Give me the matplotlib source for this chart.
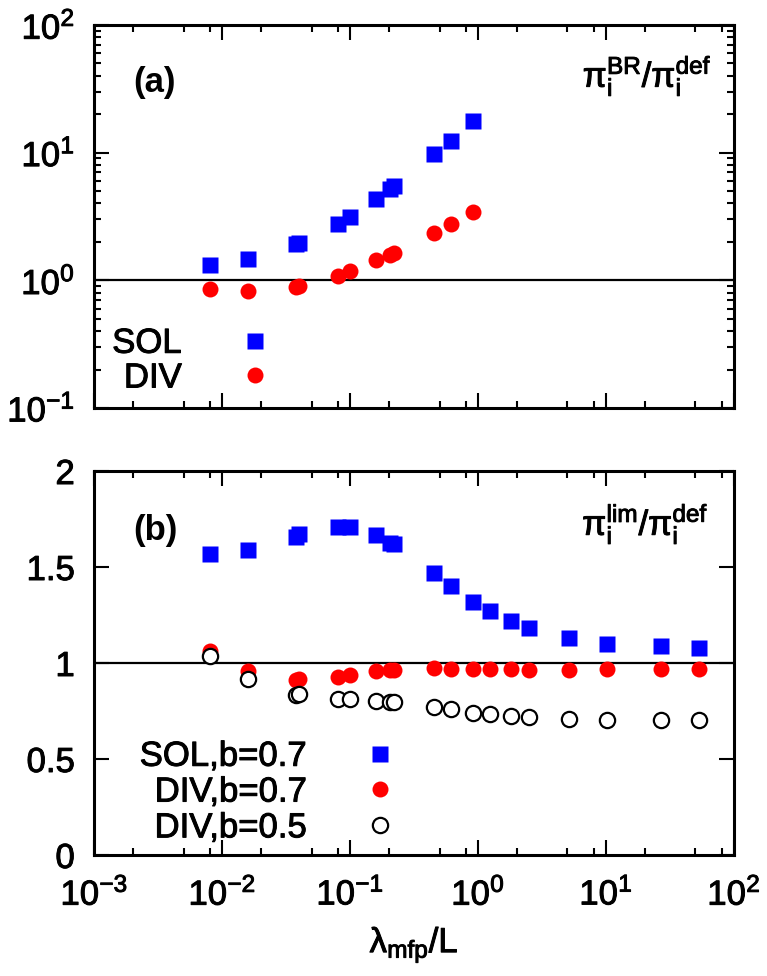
import matplotlib
matplotlib.use('Agg')
import matplotlib.pyplot as plt
import matplotlib.patheffects as pe
from matplotlib.ticker import LogLocator, MultipleLocator, NullFormatter, FuncFormatter

plt.rcParams['font.family'] = ['Liberation Sans', 'DejaVu Sans']
plt.rcParams['mathtext.fontset'] = 'custom'
plt.rcParams['mathtext.rm'] = 'Liberation Sans'
plt.rcParams['mathtext.it'] = 'Liberation Sans'
plt.rcParams['mathtext.bf'] = 'Liberation Sans:bold'

# panel (a): pi_BR / pi_def
x_a = [0.008, 0.016, 0.038, 0.040, 0.080, 0.10, 0.16, 0.205, 0.22, 0.45, 0.61, 0.91]
sol_a = [1.32, 1.46, 1.93, 1.97, 2.77, 3.16, 4.34, 5.16, 5.48, 9.77, 12.4, 17.7]
div_a = [0.85, 0.82, 0.89, 0.91, 1.09, 1.19, 1.45, 1.58, 1.65, 2.34, 2.75, 3.45]

# panel (b): pi_lim / pi_def
x_b = [0.008, 0.016, 0.038, 0.040, 0.080, 0.10, 0.16, 0.205, 0.22, 0.45, 0.61, 0.91,
       1.25, 1.8, 2.5, 5.1, 10.1, 27, 53]
sol_b = [1.566, 1.589, 1.658, 1.670, 1.707, 1.707, 1.667, 1.627, 1.618, 1.47, 1.40, 1.318,
         1.27, 1.22, 1.18, 1.13, 1.10, 1.09, 1.078]
div7_b = [1.064, 0.960, 0.911, 0.915, 0.929, 0.938, 0.960, 0.964, 0.965, 0.972, 0.969, 0.968,
          0.967, 0.967, 0.966, 0.966, 0.967, 0.970, 0.970]
div5_b = [1.036, 0.917, 0.833, 0.839, 0.811, 0.811, 0.804, 0.798, 0.798, 0.772, 0.759, 0.741,
          0.732, 0.726, 0.719, 0.710, 0.704, 0.704, 0.704]

BLUE = '#0000ff'
RED = '#ff0000'
TICK_FS = 25
TXT_FS = 25
# slightly heavier glyphs, like the original
HEAVY = [pe.withStroke(linewidth=0.7, foreground='black')]


def style_axes(ax):
    for sp in ax.spines.values():
        sp.set_linewidth(2.2)
    ax.tick_params(which='both', direction='in', top=True, right=True, width=1.5)
    ax.tick_params(which='major', length=10.5, labelsize=TICK_FS)
    ax.tick_params(axis='x', which='major', pad=16)
    ax.tick_params(axis='y', which='major', pad=14)
    ax.tick_params(which='minor', length=5)
    ax.set_xscale('log')
    ax.set_xlim(1e-3, 1e2)
    ax.xaxis.set_major_locator(LogLocator(base=10, numticks=10))
    ax.xaxis.set_minor_locator(LogLocator(base=10, subs=(2, 5, 8), numticks=10))
    ax.xaxis.set_minor_formatter(NullFormatter())
    ax.axhline(1, color='black', lw=1.6, zorder=1)


def right_align_legend(leg):
    for col in leg._legend_handle_box.get_children():
        col.align = 'right'
    for t in leg.get_texts():
        t.set_path_effects(HEAVY)


fig = plt.figure(figsize=(7.67, 9.76), dpi=100)
ax1 = fig.add_axes([0.1229, 0.582, 0.834, 0.3924])
ax2 = fig.add_axes([0.1229, 0.124, 0.834, 0.3934])

# ---- panel (a)
style_axes(ax1)
ax1.set_yscale('log')
ax1.set_ylim(0.1, 100)
ax1.yaxis.set_major_locator(LogLocator(base=10, numticks=10))
ax1.yaxis.set_minor_locator(LogLocator(base=10, subs=range(2, 10), numticks=10))
ax1.yaxis.set_minor_formatter(NullFormatter())
ax1.tick_params(axis='x', labelbottom=False)

ax1.plot(x_a, sol_a, 's', color=BLUE, ms=12, mec='none', label='SOL', zorder=3)
ax1.plot(x_a, div_a, 'o', color=RED, ms=11.5, mec='none', label='DIV', zorder=3)

leg1 = ax1.legend(loc='upper left', bbox_to_anchor=(0.028, 0.212), frameon=False,
                  markerfirst=False, handletextpad=1.1, handlelength=2, borderpad=0,
                  borderaxespad=0, labelspacing=0.05, fontsize=TXT_FS)
right_align_legend(leg1)

ax1.text(0.0605, 0.851, '(a)', transform=ax1.transAxes, fontsize=TXT_FS,
         fontweight='bold', ha='left', va='center')
ax1.text(0.965, 0.867, r'$\mathrm{π_i^{BR}/π_i^{def}}$', transform=ax1.transAxes,
         fontsize=TXT_FS, ha='right', va='center', path_effects=HEAVY)

# ---- panel (b)
style_axes(ax2)
ax2.set_ylim(0, 2)
ax2.yaxis.set_major_locator(MultipleLocator(0.5))
ax2.yaxis.set_major_formatter(FuncFormatter(lambda v, p: '%g' % v))

ax2.plot(x_b, sol_b, 's', color=BLUE, ms=12, mec='none', label='SOL,b=0.7', zorder=3)
ax2.plot(x_b, div7_b, 'o', color=RED, ms=11.5, mec='none', label='DIV,b=0.7', zorder=3)
ax2.plot(x_b, div5_b, 'o', mfc='white', mec='black', mew=1.6, ms=11, label='DIV,b=0.5', zorder=4)

leg2 = ax2.legend(loc='upper left', bbox_to_anchor=(0.071, 0.300), frameon=False,
                  markerfirst=False, handletextpad=1.1, handlelength=2, borderpad=0,
                  borderaxespad=0, labelspacing=0.08, fontsize=TXT_FS)
right_align_legend(leg2)

ax2.text(0.0605, 0.846, '(b)', transform=ax2.transAxes, fontsize=TXT_FS,
         fontweight='bold', ha='left', va='center')
ax2.text(0.960, 0.862, r'$\mathrm{π_i^{lim}/π_i^{def}}$', transform=ax2.transAxes,
         fontsize=TXT_FS, ha='right', va='center', path_effects=HEAVY)

ax2.set_xlabel(r'$\mathrm{λ_{mfp}/L}$', fontsize=TXT_FS, labelpad=9, path_effects=HEAVY)

for ax in (ax1, ax2):
    for lab in ax.get_xticklabels() + ax.get_yticklabels():
        lab.set_path_effects(HEAVY)

fig.savefig('out.png', dpi=100)
